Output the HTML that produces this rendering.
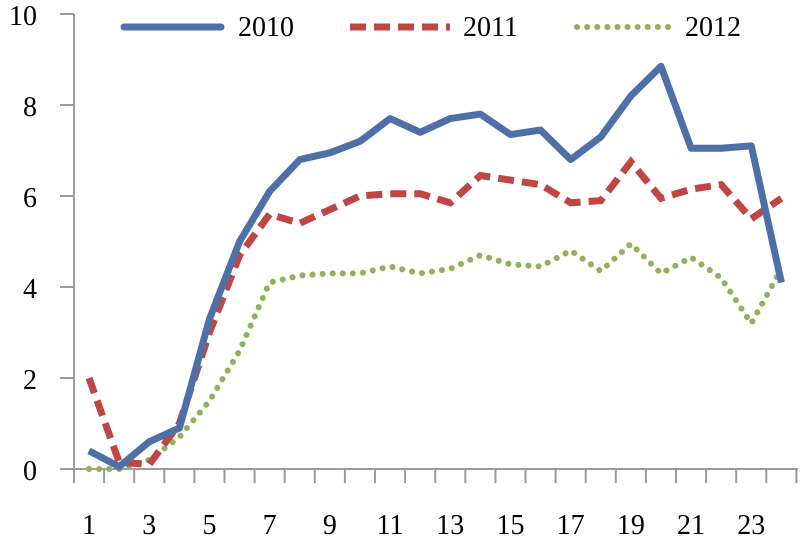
<!DOCTYPE html>
<html><head><meta charset="utf-8"><style>
html,body{margin:0;padding:0;background:#fff;}
svg{display:block;}
text{font-family:"Liberation Serif",serif;font-size:28px;fill:#000;}
</style></head><body>
<svg width="800" height="540" viewBox="0 0 800 540" xmlns="http://www.w3.org/2000/svg">
<g stroke="#a09a9a" stroke-width="2" fill="none">
<line x1="74" y1="14" x2="74" y2="483"/>
<line x1="60" y1="469" x2="798" y2="469"/>
<line x1="60" y1="14" x2="74" y2="14"/>
<line x1="60" y1="105" x2="74" y2="105"/>
<line x1="60" y1="196" x2="74" y2="196"/>
<line x1="60" y1="287" x2="74" y2="287"/>
<line x1="60" y1="378" x2="74" y2="378"/>
</g>
<g id="xt" stroke="#a09a9a" stroke-width="2"></g>
<g text-anchor="end">
<text x="37" y="25">10</text><text x="37" y="116">8</text><text x="37" y="207">6</text><text x="37" y="298">4</text><text x="37" y="389">2</text><text x="37" y="480">0</text>
</g>
<g id="xl" text-anchor="middle"></g>
<line x1="124" y1="27" x2="221" y2="27" stroke="#4f6fa8" stroke-width="7" stroke-linecap="round"/>
<text x="238" y="36">2010</text>
<line x1="350" y1="27" x2="450" y2="27" stroke="#bf4743" stroke-width="7" stroke-dasharray="16,8"/>
<text x="463" y="36">2011</text>
<line x1="577" y1="27" x2="668" y2="27" stroke="#8fb25a" stroke-width="6" stroke-dasharray="0.1,10" stroke-linecap="round"/>
<text x="685" y="36">2012</text>
<polyline id="s3" fill="none" stroke="#8fb25a" stroke-width="6" stroke-dasharray="0.1,10" stroke-linecap="round"/>
<polyline id="s2" fill="none" stroke="#bf4743" stroke-width="7" stroke-dasharray="16,8"/>
<polyline id="s1" fill="none" stroke="#4f6fa8" stroke-width="7" stroke-linejoin="round"/>
</svg>
<script>
var a=[0.4,0.05,0.6,0.9,3.3,5.0,6.1,6.8,6.95,7.2,7.7,7.4,7.7,7.8,7.35,7.45,6.8,7.3,8.2,8.85,7.05,7.05,7.1,4.1];
var b=[2.0,0.15,0.1,1.0,3.0,4.7,5.6,5.4,5.7,6.0,6.05,6.05,5.85,6.45,6.35,6.25,5.85,5.9,6.75,5.95,6.15,6.25,5.5,5.95];
var c=[0,0,0.2,0.7,1.5,2.6,4.1,4.25,4.3,4.3,4.45,4.3,4.4,4.7,4.5,4.45,4.8,4.35,4.95,4.3,4.65,4.2,3.2,4.4];
function X(i){return 74+30.1*(i+0.5);}function Y(v){return 469-45.5*v;}
function p(d){return d.map(function(v,i){return X(i).toFixed(1)+","+Y(v).toFixed(1)}).join(" ");}
document.getElementById("s1").setAttribute("points",p(a));
document.getElementById("s2").setAttribute("points",p(b));
document.getElementById("s3").setAttribute("points",p(c));
var ns="http://www.w3.org/2000/svg",xt=document.getElementById("xt"),xl=document.getElementById("xl");
for(var k=0;k<=24;k++){var l=document.createElementNS(ns,"line");var x=74+30.1*k;l.setAttribute("x1",x);l.setAttribute("x2",x);l.setAttribute("y1",469);l.setAttribute("y2",483);xt.appendChild(l);}
for(var i=0;i<24;i+=2){var t=document.createElementNS(ns,"text");t.setAttribute("x",X(i));t.setAttribute("y",534);t.textContent=i+1;xl.appendChild(t);}
</script>
</body></html>
